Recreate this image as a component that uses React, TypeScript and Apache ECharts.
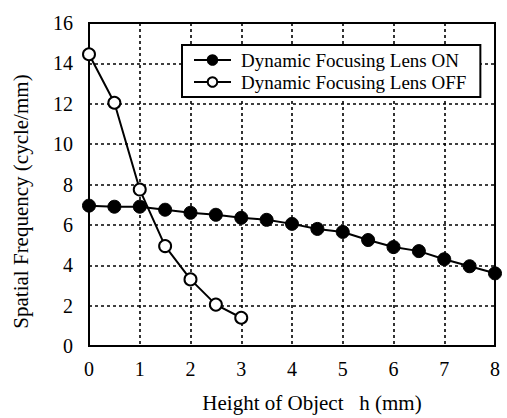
import React, { useEffect, useRef } from "react";
import * as echarts from "echarts";

const xOn = [0, 0.5, 1, 1.5, 2, 2.5, 3, 3.5, 4, 4.5, 5, 5.5, 6, 6.5, 7, 7.5, 8];
const yOn = [6.95, 6.9, 6.9, 6.75, 6.6, 6.5, 6.35, 6.25, 6.05, 5.8, 5.65, 5.25, 4.9, 4.7, 4.3, 3.95, 3.6];
const xOff = [0, 0.5, 1, 1.5, 2, 2.5, 3];
const yOff = [14.45, 12.05, 7.75, 4.95, 3.3, 2.05, 1.4];
const seriesNames = ["Dynamic Focusing Lens ON", "Dynamic Focusing Lens OFF"];

const FONT = "'Liberation Serif', 'DejaVu Serif', serif";

export default function App() {
  const ref = useRef<HTMLDivElement>(null);
  useEffect(() => {
    const chart = echarts.init(ref.current!, null, { renderer: "svg" });
    const grid = { type: [3, 3], color: "#000", width: 1.6 };
    chart.setOption({
      animation: false,
      backgroundColor: "#fff",
      grid: { left: 89, right: 12, top: 23, bottom: 71, show: true, borderColor: "#000", borderWidth: 2, backgroundColor: "transparent" },
      legend: {
        left: 182,
        top: 45,
        orient: "vertical",
        backgroundColor: "#fff",
        borderColor: "#000",
        borderWidth: 2,
        borderRadius: 0,
        padding: [5, 14, 5, 11],
        itemGap: 2,
        itemWidth: 37,
        itemHeight: 12,
        textStyle: { fontFamily: FONT, fontSize: 19, lineHeight: 20, color: "#000", padding: [0, 0, 0, 5] },
        data: seriesNames,
      },
      xAxis: {
        type: "value",
        min: 0,
        max: 8,
        interval: 1,
        name: "Height of Object   h (mm)",
        nameLocation: "middle",
        nameGap: 46,
        nameTextStyle: { fontFamily: FONT, fontSize: 21, color: "#000", padding: [0, 0, 0, 40] },
        axisLine: { show: true, lineStyle: { color: "#000", width: 2 } },
        axisTick: { show: false },
        axisLabel: { fontFamily: FONT, fontSize: 20, color: "#000", margin: 13 },
        splitLine: { show: true, lineStyle: grid },
      },
      yAxis: {
        type: "value",
        min: 0,
        max: 16,
        interval: 2,
        name: "Spatial Frequency (cycle/mm)",
        nameLocation: "middle",
        nameGap: 58,
        nameTextStyle: { fontFamily: FONT, fontSize: 21, color: "#000", padding: [0, 34, 0, 0] },
        axisLine: { show: true, lineStyle: { color: "#000", width: 2 } },
        axisTick: { show: false },
        axisLabel: { fontFamily: FONT, fontSize: 20, color: "#000", margin: 16 },
        splitLine: { show: true, lineStyle: grid },
      },
      series: [
        {
          name: seriesNames[0],
          type: "line",
          data: xOn.map((x, i) => [x, yOn[i]]),
          symbol: "circle",
          symbolSize: 13,
          lineStyle: { color: "#000", width: 2 },
          itemStyle: { color: "#000", borderColor: "#000", borderWidth: 1 },
          z: 3,
        },
        {
          name: seriesNames[1],
          type: "line",
          data: xOff.map((x, i) => [x, yOff[i]]),
          symbol: "circle",
          symbolSize: 12,
          lineStyle: { color: "#000", width: 2 },
          itemStyle: { color: "#fff", borderColor: "#000", borderWidth: 2 },
          z: 4,
        },
      ],
    });
    return () => chart.dispose();
  }, []);
  return <div ref={ref} style={{ width: 507, height: 418, position: "absolute", left: 0, top: 0 }} />;
}
